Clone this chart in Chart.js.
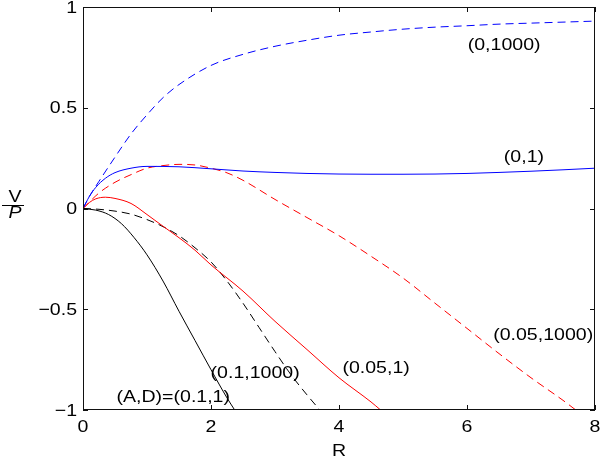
<!DOCTYPE html>
<html lang="en">
<head>
    <meta charset="UTF-8" />
    <title>V/P against R</title>
    <script src="https://cdn.jsdelivr.net/npm/chart.js"></script>
    <style>
        html, body { margin: 0; padding: 0; background: #fff; }
        #wrap { width: 600px; height: 460px; }
    </style>
</head>
<body>
    <div id="wrap"><canvas id="vpChart"></canvas></div>

    <script>
        // axis ticks
        const xTicks = [0, 2, 4, 6, 8];
        const yTicks = [-1, -0.5, 0, 0.5, 1];
        const yTickLabels = ['\u22121', '\u22120.5', '0', '0.5', '1'];

        // (A,D) = (0,1000)  blue dashed
        const r0_1000 = [0, 0.1, 0.25, 0.5, 0.75, 1, 1.25, 1.5, 2, 2.5, 3, 3.5, 4, 4.5, 5, 5.5, 6, 6.5, 7, 7.5, 8];
        const v0_1000 = [0, 0.06, 0.135, 0.255, 0.37, 0.465, 0.55, 0.615, 0.71, 0.765, 0.805, 0.835, 0.86, 0.876, 0.89, 0.9, 0.907, 0.915, 0.92, 0.925, 0.93];

        // (0,1)  blue solid
        const r0_1 = [0, 0.1, 0.2, 0.35, 0.5, 0.75, 1, 1.5, 2, 2.5, 3, 3.5, 4, 4.5, 5, 5.5, 6, 6.5, 7, 7.5, 8];
        const v0_1 = [0, 0.06, 0.105, 0.15, 0.178, 0.2, 0.209, 0.207, 0.197, 0.186, 0.179, 0.174, 0.171, 0.17, 0.17, 0.171, 0.174, 0.179, 0.185, 0.192, 0.2];

        // (0.05,1000)  red dashed
        const r05_1000 = [0, 0.25, 0.5, 0.75, 1, 1.25, 1.5, 1.75, 2, 2.25, 2.5, 3, 3.5, 4, 4.5, 5, 5.5, 6, 6.5, 7, 7.5, 7.7];
        const v05_1000 = [0, 0.077, 0.13, 0.168, 0.2, 0.213, 0.219, 0.216, 0.2, 0.177, 0.14, 0.045, -0.045, -0.135, -0.237, -0.345, -0.47, -0.595, -0.72, -0.84, -0.952, -1.0];

        // (0.05,1)  red solid
        const r05_1 = [0, 0.1, 0.2, 0.35, 0.5, 0.75, 1, 1.25, 1.5, 1.75, 2, 2.5, 3, 3.5, 4, 4.5, 4.65];
        const v05_1 = [0, 0.03, 0.048, 0.056, 0.05, 0.025, -0.03, -0.088, -0.145, -0.207, -0.28, -0.41, -0.56, -0.7, -0.84, -0.96, -1.0];

        // (0.1,1000)  black dashed
        const r1_1000 = [0, 0.25, 0.5, 0.75, 1, 1.25, 1.5, 1.75, 2, 2.25, 2.5, 2.75, 3, 3.25, 3.5, 3.7];
        const v1_1000 = [0, -0.004, -0.013, -0.028, -0.055, -0.09, -0.135, -0.195, -0.265, -0.36, -0.47, -0.59, -0.71, -0.825, -0.925, -1.0];

        // (0.1,1)  black solid
        const r1_1 = [0, 0.2, 0.4, 0.6, 0.8, 1, 1.25, 1.5, 1.75, 2, 2.25, 2.37];
        const v1_1 = [0, -0.008, -0.03, -0.075, -0.145, -0.23, -0.36, -0.51, -0.655, -0.8, -0.94, -1.0];

        // curve labels, placed in data coordinates
        const curveLabels = [
            { text: '(0,1000)', r: 6.58, v: 0.811 },
            { text: '(0,1)', r: 6.89, v: 0.256 },
            { text: '(0.05,1000)', r: 7.19, v: -0.628 },
            { text: '(0.05,1)', r: 4.58, v: -0.792 },
            { text: '(0.1,1000)', r: 2.69, v: -0.816 },
            { text: '(A,D)=(0.1,1)', r: 1.41, v: -0.935 }
        ];

        const FONT = '17px "Liberation Sans", Arial, sans-serif';
        const ITALIC = 'italic 17px "Liberation Sans", Arial, sans-serif';

        function pts(xs, ys) {
            return xs.map((x, i) => ({ x: x, y: ys[i] }));
        }

        function line(xs, ys, color, dashed) {
            return {
                data: pts(xs, ys),
                borderColor: color,
                borderWidth: 1,
                borderDash: dashed ? [8, 5] : [],
                pointRadius: 0,
                showLine: true,
                fill: false,
                cubicInterpolationMode: 'monotone'
            };
        }

        // MATLAB-like text is a bit wider than Arial, so stretch it
        function wideText(ctx, text, x, y, align, font) {
            ctx.save();
            ctx.font = font || FONT;
            ctx.fillStyle = '#000';
            ctx.textAlign = align;
            ctx.textBaseline = 'middle';
            ctx.translate(x, y);
            ctx.scale(1.15, 1);
            ctx.fillText(text, 0, 0);
            ctx.restore();
        }

        const frame = {
            id: 'frame',
            afterDraw(chart) {
                const ctx = chart.ctx;
                const a = chart.chartArea;
                const xs = chart.scales.x;
                const ys = chart.scales.y;
                const tl = 5;

                ctx.save();
                ctx.strokeStyle = '#111';
                ctx.lineWidth = 1;
                ctx.strokeRect(a.left + 0.5, a.top + 0.5, a.right - a.left - 1, a.bottom - a.top - 1);

                ctx.beginPath();
                xTicks.forEach(t => {
                    const px = Math.round(xs.getPixelForValue(t)) + 0.5;
                    ctx.moveTo(px, a.bottom); ctx.lineTo(px, a.bottom - tl);
                    ctx.moveTo(px, a.top); ctx.lineTo(px, a.top + tl);
                });
                yTicks.forEach(t => {
                    const py = Math.round(ys.getPixelForValue(t)) + 0.5;
                    ctx.moveTo(a.left, py); ctx.lineTo(a.left + tl, py);
                    ctx.moveTo(a.right, py); ctx.lineTo(a.right - tl, py);
                });
                ctx.stroke();
                ctx.restore();

                xTicks.forEach(t => {
                    wideText(ctx, String(t), xs.getPixelForValue(t), a.bottom + 17, 'center');
                });
                yTicks.forEach((t, i) => {
                    wideText(ctx, yTickLabels[i], a.left - 6, ys.getPixelForValue(t) + 1, 'right');
                });

                // axis titles
                wideText(ctx, 'R', (a.left + a.right) / 2, a.bottom + 41, 'center');
                const mid = (a.top + a.bottom) / 2;
                wideText(ctx, 'V', 15, mid - 11, 'center');
                ctx.save();
                ctx.strokeStyle = '#000';
                ctx.beginPath();
                ctx.moveTo(2, Math.round(mid - 4) + 0.5);
                ctx.lineTo(24, Math.round(mid - 4) + 0.5);
                ctx.stroke();
                ctx.restore();
                wideText(ctx, 'P', 15, mid + 5, 'center', ITALIC);

                curveLabels.forEach(l => {
                    wideText(ctx, l.text, xs.getPixelForValue(l.r), ys.getPixelForValue(l.v), 'center');
                });
            }
        };

        new Chart(document.getElementById('vpChart'), {
            type: 'scatter',
            data: {
                datasets: [
                    line(r0_1000, v0_1000, '#0000ff', true),
                    line(r0_1, v0_1, '#0000ff', false),
                    line(r05_1000, v05_1000, '#ff0000', true),
                    line(r05_1, v05_1, '#ff0000', false),
                    line(r1_1000, v1_1000, '#000000', true),
                    line(r1_1, v1_1, '#000000', false)
                ]
            },
            options: {
                responsive: true,
                maintainAspectRatio: false,
                animation: false,
                layout: { padding: { left: 83, right: 5, top: 7, bottom: 50 } },
                plugins: { legend: { display: false }, tooltip: { enabled: false } },
                scales: {
                    x: { type: 'linear', min: 0, max: 8, display: false },
                    y: { type: 'linear', min: -1, max: 1, display: false }
                }
            },
            plugins: [frame]
        });
    </script>
</body>
</html>
